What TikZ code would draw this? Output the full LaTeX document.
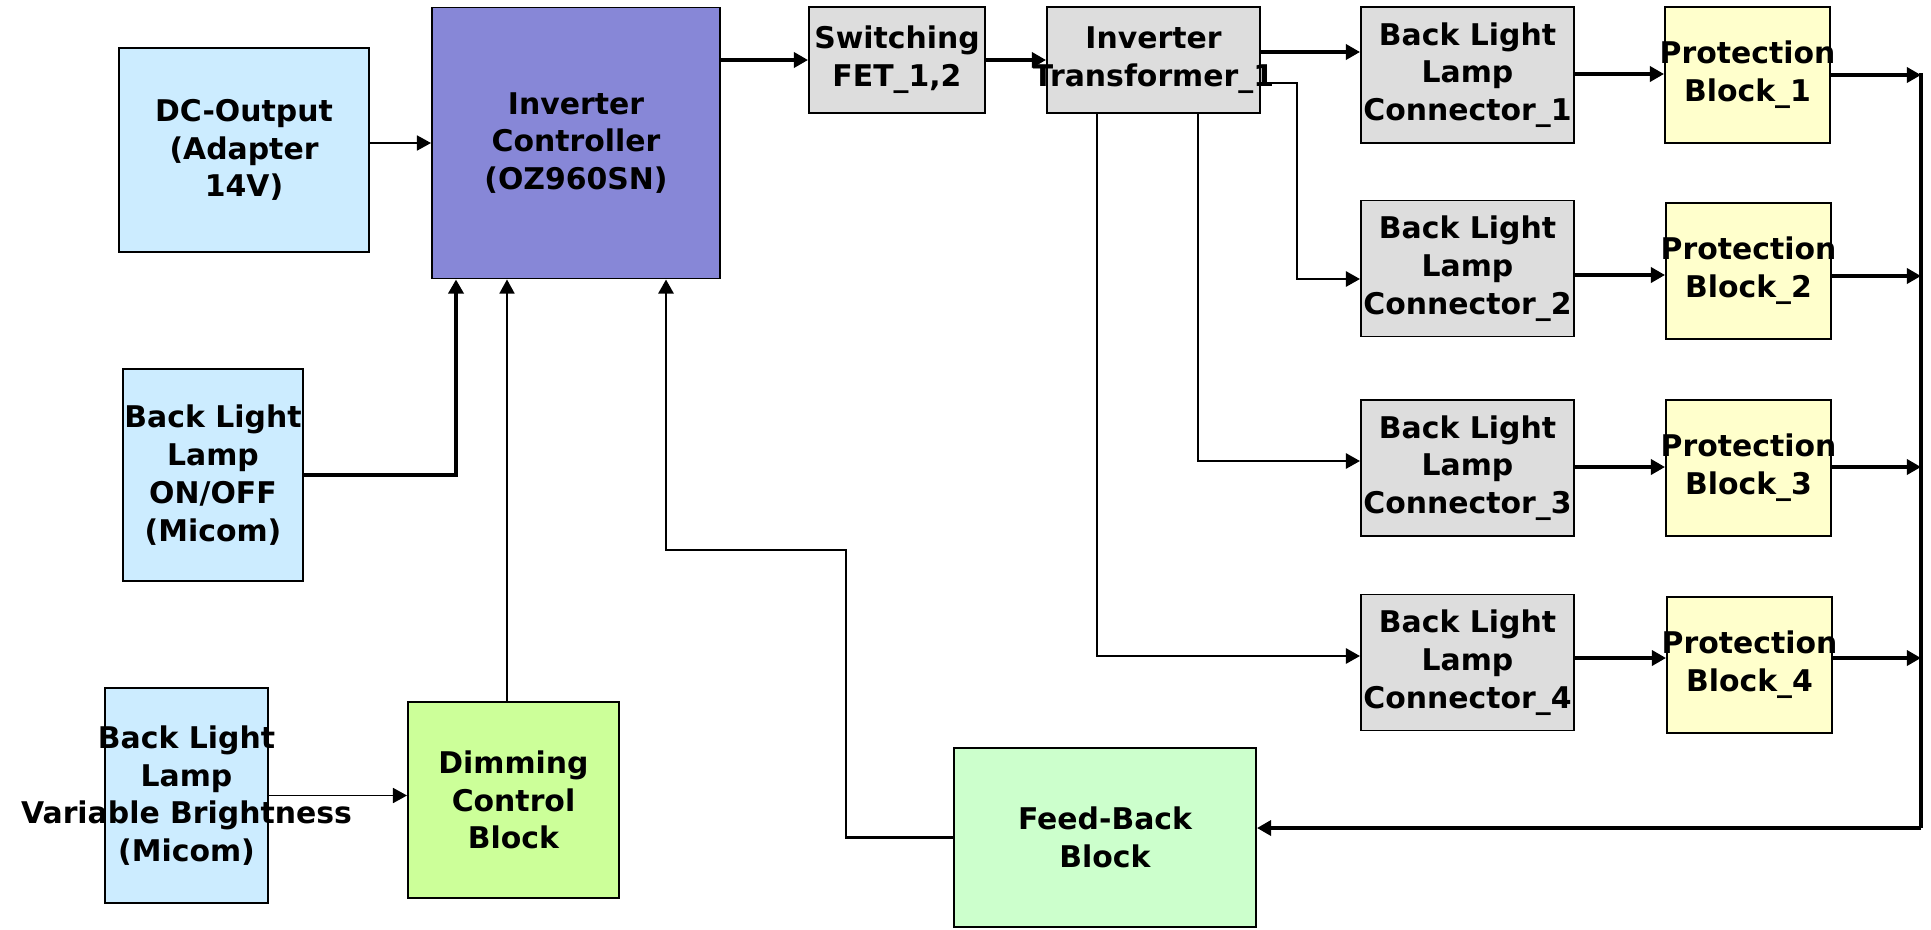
\documentclass[tikz,border=0pt]{standalone}
\usepackage{fontspec}
\setmainfont{DejaVu Sans}
\usetikzlibrary{arrows.meta}

\definecolor{skyfill}{HTML}{CCECFF}
\definecolor{icfill}{HTML}{8787D7}
\definecolor{greyfill}{HTML}{DDDDDD}
\definecolor{yelfill}{HTML}{FFFFCC}
\definecolor{limefill}{HTML}{CCFF99}
\definecolor{mintfill}{HTML}{CCFFCC}

\tikzset{
  blk/.style={draw, line width=1.1pt, inner sep=0pt},
  lbl/.style={align=center, font=\bfseries\fontsize{17}{21.5}\selectfont},
  wire/.style={line width=2.2pt},
  arr/.style={wire, -{Triangle[length=8pt, width=8.5pt]}},
  midarr/.style={line width=1.6pt, -{Triangle[length=8pt, width=8.5pt]}},
  thinarr/.style={line width=1.1pt, -{Triangle[length=8pt, width=8.5pt]}},
}

\begin{document}
\begin{tikzpicture}
      \useasboundingbox (0, 0) rectangle (38.62, -18.58);
      % left column
      \node[blk, fill = skyfill, minimum width = 5cm, minimum height = 4.08cm,
        label = {[lbl]center:{DC-Output\\(Adapter\\14V)}}] (dc) at (4.88, -3.00) {};
      \node[blk, fill = skyfill, minimum width = 3.6cm, minimum height = 4.24cm,
        label = {[lbl]center:{Back Light\\Lamp\\ON/OFF\\(Micom)}}] (onoff) at (4.26, -9.50) {};
      \node[blk, fill = skyfill, minimum width = 3.26cm, minimum height = 4.3cm,
        label = {[lbl]center:{Back Light\\Lamp\\Variable Brightness\\(Micom)}}] (var) at (3.73, -15.91) {};
      % controller and dimming
      \node[blk, fill = icfill, minimum width = 5.76cm, minimum height = 5.42cm,
        label = {[lbl]center:{Inverter\\Controller\\(OZ960SN)}}] (ic) at (11.52, -2.86) {};
      \node[blk, fill = limefill, minimum width = 4.22cm, minimum height = 3.92cm,
        label = {[lbl]center:{Dimming\\Control\\Block}}] (dim) at (10.27, -16.00) {};
      % power stage
      \node[blk, fill = greyfill, minimum width = 3.52cm, minimum height = 2.12cm,
        label = {[lbl]center:{Switching\\FET\_1,2}}] (fet) at (17.94, -1.20) {};
      \node[blk, fill = greyfill, minimum width = 4.26cm, minimum height = 2.12cm,
        label = {[lbl]center:{Inverter\\Transformer\_1}}] (trans) at (23.07, -1.20) {};
      \node[blk, fill = mintfill, minimum width = 6.04cm, minimum height = 3.58cm,
        label = {[lbl]center:{Feed-Back\\Block}}] (fb) at (22.10, -16.75) {};
      % lamp connectors and protection blocks
      \foreach \i/\yc/\yp/\xp in {1/-1.50/-1.50/34.95, 2/-5.37/-5.42/34.97,
                                  3/-9.36/-9.36/34.97, 4/-13.25/-13.30/34.99} {
        \node[blk, fill = greyfill, minimum width = 4.26cm, minimum height = 2.72cm,
          label = {[lbl]center:{Back Light\\Lamp\\Connector\_\i}}] (conn\i) at (29.35, \yc) {};
        \node[blk, fill = yelfill, minimum width = 3.3cm, minimum height = 2.72cm,
          label = {[lbl]center:{Protection\\Block\_\i}}] (prot\i) at (\xp, \yp) {};
      }
      % turning points
      \coordinate (tap2) at (25.94, -5.58);
      \coordinate (tap3) at (23.96, -9.22);
      \coordinate (tap4) at (21.94, -13.12);
      \coordinate (bustop) at (38.42, -1.46);
      \coordinate (busend) at (38.42, -16.56);
      \coordinate (fbturn) at (13.32, -11.00);
      % inputs of the controller
      \draw[thinarr] (dc.east |- ic) -- (ic.west);
      \draw[arr] (onoff.east) -| ([xshift = -2.4cm]ic.south);
      \draw[thinarr] ([xshift = -0.13cm]dim.north) -- ([xshift = -1.38cm]ic.south);
      \draw[thinarr] (var.east) -- (var.east -| dim.west);
      \draw[midarr] (fb.west) -- ++(-2.14, 0) |- (fbturn) -- (fbturn |- ic.south);
      % forward path
      \draw[arr] (ic.east |- fet) -- (fet.west);
      \draw[arr] (fet) -- (trans);
      \draw[arr] ([yshift = 1.6mm]trans.east) -- ([yshift = 1.6mm]trans.east -| conn1.west);
      \draw[midarr] ([yshift = -4.6mm]trans.east) -| (tap2) -- (tap2 -| conn2.west);
      \draw[midarr] (tap3 |- trans.south) -- (tap3) -- (tap3 -| conn3.west);
      \draw[midarr] (tap4 |- trans.south) -- (tap4) -- (tap4 -| conn4.west);
      \foreach \i/\y in {1/-1.48, 2/-5.50, 3/-9.34, 4/-13.16}
        \draw[arr] (conn\i.east |- 0, \y) -- (prot\i.west |- 0, \y);
      % feedback bus
      \foreach \i/\y in {1/-1.50, 2/-5.52, 3/-9.34, 4/-13.16}
        \draw[arr] (prot\i.east |- 0, \y) -- (bustop |- 0, \y);
      \draw[wire] (bustop) -- (busend);
      \draw[arr] (busend) -- (busend -| fb.east);
\end{tikzpicture}
\end{document}
